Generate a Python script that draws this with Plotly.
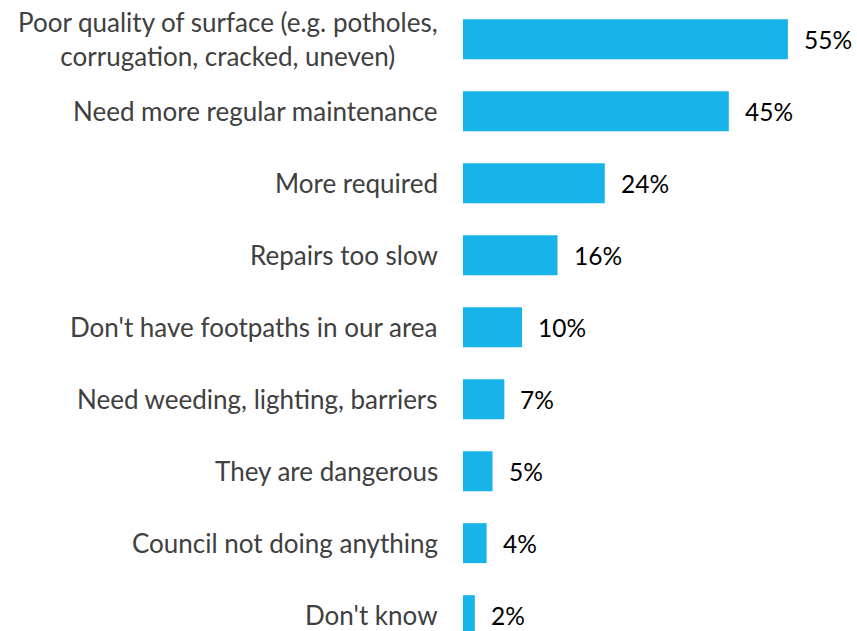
import plotly.graph_objects as go

categories = [
    "Poor quality of surface (e.g. potholes,<br>corrugation, cracked, uneven)",
    "Need more regular maintenance",
    "More required",
    "Repairs too slow",
    "Don't have footpaths in our area",
    "Need weeding, lighting, barriers",
    "They are dangerous",
    "Council not doing anything",
    "Don't know",
]
values = [55, 45, 24, 16, 10, 7, 5, 4, 2]
value_labels = ["55%", "45%", "24%", "16%", "10%", "7%", "5%", "4%", "2%"]

FONT = "Lato"
BAR = "#17b3e9"

fig = go.Figure(go.Bar(
    y=categories, x=values, orientation="h",
    marker=dict(color=BAR, line=dict(width=0)),
    hoverinfo="skip",
))

annotations = []
for c, v, t in zip(categories, values, value_labels):
    annotations.append(dict(x=v, y=c, xref="x", yref="y", text=t, showarrow=False,
                            xanchor="left", yanchor="middle", xshift=14,
                            font=dict(family=FONT, size=24.5, color="#000000")))
    annotations.append(dict(x=0, y=c, xref="paper", yref="y", text=c, showarrow=False,
                            xanchor="right", yanchor="middle", xshift=-23, align="center",
                            font=dict(family=FONT, size=26, color="#404040")))

fig.update_layout(
    width=857, height=631,
    margin=dict(l=463, r=0, t=0, b=0),
    paper_bgcolor="white", plot_bgcolor="white",
    bargap=0.445,
    showlegend=False,
    hovermode=False,
    xaxis=dict(range=[0, 66.7], visible=False, fixedrange=True),
    yaxis=dict(type="category", categoryorder="array", categoryarray=categories,
               range=[8.22, -0.545], showticklabels=False, showgrid=False,
               zeroline=False, showline=False, ticks="", fixedrange=True),
    annotations=annotations,
)

fig.write_html("out.html", config={"displayModeBar": False, "staticPlot": True},
               post_script="document.body.style.margin='0';document.body.style.overflow='hidden';")
